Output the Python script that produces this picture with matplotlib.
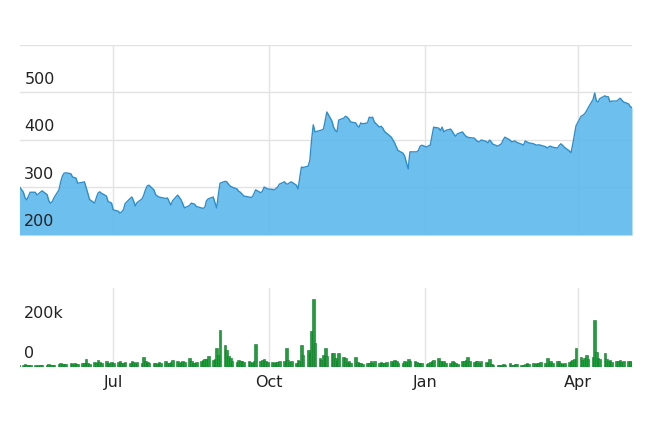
"""
Stock price (area) with daily trading volume (bars) underneath.
"""

import pandas as pd
import matplotlib.pyplot as plt
import matplotlib.transforms as mtransforms

# -----------------------------
# Data
# -----------------------------
start_date = "2016-05-06"

price = [
    305, 290, 278, 274, 282, 290, 290, 284, 287, 290,
    293, 285, 272, 267, 270, 278, 295, 312, 324, 330,
    331, 329, 322, 321, 320, 309, 311, 312, 300, 288,
    275, 267, 278, 288, 291, 288, 282, 270, 269, 267,
    253, 250, 246, 249, 253, 266, 277, 280, 272, 261,
    268, 276, 284, 295, 303, 305, 295, 285, 282, 280,
    279, 277, 278, 270, 263, 272, 284, 279, 274, 266,
    257, 262, 267, 266, 265, 260, 257, 256, 258, 272,
    276, 280, 268, 257, 285, 309, 313, 312, 307, 303,
    301, 297, 292, 290, 286, 282, 280, 279, 280, 287,
    295, 289, 292, 301, 299, 297, 296, 295, 298, 301,
    307, 312, 308, 307, 310, 312, 305, 297, 320, 343,
    342, 345, 358, 400, 432, 417, 420, 421, 423, 440,
    459, 440, 427, 420, 417, 442, 446, 450, 448, 444,
    438, 436, 430, 427, 436, 434, 436, 448, 447, 448,
    438, 427, 429, 425, 418, 415, 406, 400, 394, 385,
    378, 372, 365, 352, 339, 375, 375, 375, 378, 387,
    389, 385, 388, 389, 408, 427, 425, 420, 427, 417,
    420, 423, 418, 412, 408, 413, 417, 412, 408, 406,
    405, 404, 400, 397, 396, 400, 397, 394, 400, 396,
    391, 387, 390, 392, 400, 406, 400, 396, 397, 398,
    395, 391, 389, 398, 396, 394, 392, 390, 389, 390,
    389, 386, 383, 386, 387, 385, 383, 388, 392, 389,
    385, 377, 373, 390, 410, 430, 450, 452, 455, 460,
    467, 485, 499, 482, 480, 487, 493, 491, 491, 480,
    482, 482, 485, 488, 484, 480, 476, 470, 468,
]

# volume in thousands of shares
volume_k = [
    12, 10, 14, 9, 11, 8, 10, 6, 9, 12,
    8, 10, 14, 11, 9, 12, 15, 18, 14, 16,
    13, 18, 15, 20, 17, 14, 22, 18, 40, 22,
    16, 25, 20, 35, 24, 18, 28, 22, 17, 25,
    20, 24, 28, 18, 22, 26, 20, 30, 24, 18,
    27, 22, 50, 30, 24, 20, 18, 22, 15, 25,
    20, 28, 22, 18, 24, 35, 28, 20, 25, 30,
    24, 45, 30, 22, 18, 25, 30, 35, 40, 38,
    55, 35, 40, 95, 60, 187, 110, 85, 55, 45,
    30, 25, 35, 28, 30, 24, 32, 26, 22, 30,
    117, 30, 35, 40, 28, 25, 24, 22, 25, 24,
    30, 28, 95, 35, 25, 30, 22, 37, 28, 110,
    60, 85, 70, 180, 340, 120, 45, 35, 60, 95,
    55, 70, 70, 45, 30, 70, 50, 45, 25, 28,
    22, 48, 24, 18, 20, 16, 22, 18, 28, 22,
    32, 20, 26, 22, 18, 25, 30, 24, 35, 28,
    20, 22, 30, 25, 38, 32, 30, 25, 20, 18,
    22, 16, 20, 25, 30, 35, 45, 32, 25, 28,
    22, 18, 30, 24, 20, 16, 28, 30, 35, 48,
    30, 26, 32, 28, 22, 30, 25, 20, 40, 15,
    12, 10, 12, 8, 14, 11, 18, 12, 10, 14,
    16, 10, 12, 15, 18, 14, 20, 16, 22, 18,
    25, 20, 45, 22, 30, 18, 28, 32, 20, 14,
    22, 25, 30, 35, 40, 95, 50, 35, 45, 60,
    40, 50, 235, 75, 45, 38, 70, 40, 30, 35,
    25, 30, 28, 35, 24, 30, 32, 28, 25,
]

price_ticks = [200, 300, 400, 500, 600]
price_labels = ["200", "300", "400", "500"]
volume_ticks = [0, 200000]
volume_labels = ["0", "200k"]
month_ticks = ["2016-07-01", "2016-10-01", "2017-01-01", "2017-04-01"]
month_labels = ["Jul", "Oct", "Jan", "Apr"]

dates = pd.bdate_range(start_date, periods=len(price))
volume = [v * 1000 for v in volume_k]

# -----------------------------
# Plot
# -----------------------------
grid_color = "#e3e3e3"
text_color = "#222222"

fig = plt.figure(figsize=(6.57, 4.23), dpi=100)
ax_p = fig.add_axes([20 / 657, 1 - 235 / 423, 612 / 657, 190 / 423])
ax_v = fig.add_axes([20 / 657, 1 - 367 / 423, 612 / 657, 79 / 423])

month_pos = pd.to_datetime(month_ticks)


def inside_labels(ax, ticks, labels):
    # y labels sit inside the plot, just above their gridline
    trans = mtransforms.blended_transform_factory(ax.transAxes, ax.transData)
    trans = trans + mtransforms.ScaledTranslation(0, 4 / 72, fig.dpi_scale_trans)
    for t, lab in zip(ticks, labels):
        ax.text(0.007, t, lab, transform=trans, ha="left", va="bottom",
                fontsize=11.5, color=text_color, zorder=5)


for ax in (ax_p, ax_v):
    for s in ax.spines.values():
        s.set_visible(False)
    ax.set_xlim(pd.Timestamp("2016-05-07"), dates[-1])
    ax.set_xticks(month_pos)
    ax.grid(axis="x", color=grid_color, linewidth=1)
    ax.set_axisbelow(True)
    ax.tick_params(axis="both", length=0, colors=text_color, labelsize=11.5)
    ax.tick_params(axis="y", labelleft=False)

# price area
ax_p.fill_between(dates, 200, price, color="#5db8ec", alpha=0.9, linewidth=0)
ax_p.plot(dates, price, color="#2f8dc8", linewidth=1.0)
ax_p.set_ylim(200, 600)
ax_p.set_yticks(price_ticks)
ax_p.grid(axis="y", color=grid_color, linewidth=1)
ax_p.set_xticklabels([])
inside_labels(ax_p, price_ticks, price_labels)

# volume bars
ax_v.bar(dates, volume, width=1.6, color="#1f9e3c", edgecolor="#14772b", linewidth=0.4)
ax_v.set_ylim(0, 395000)
ax_v.set_yticks(volume_ticks)
inside_labels(ax_v, volume_ticks, volume_labels)
ax_v.set_xticklabels(month_labels)
ax_v.tick_params(axis="x", pad=6)

plt.savefig("out.png", dpi=100)
